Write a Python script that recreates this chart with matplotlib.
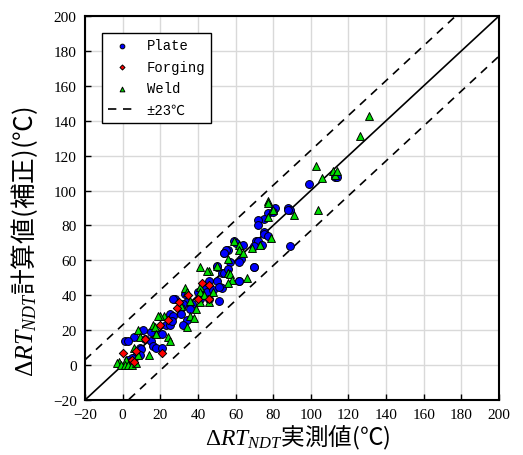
import matplotlib
matplotlib.use("Agg")
import matplotlib.pyplot as plt
import numpy as np

# ---- data ----
plate_x = [113, 114, 99, 88, 89, 89, 81, 77, 75, 72, 72, 75, 75, 77, 71, 72, 70, 74, 70,
           80, 88, 59, 64, 56, 54, 63, 60, 55, 54, 57, 62, 50, 53, 54, 56, 62, 46, 50,
           44, 40, 45, 48, 52, 53, 41, 46, 51, 28, 34, 37, 32, 31, 25, 27, 31, 34, 32,
           23, 25, 26, 11, 15, 19, 21, 6, 12, 15, 16, 18, 21, 1, 3, 9, 10, 9, 7, 5, 3, 4,
           27, 50, 51, 70, 62, 33, 36]
plate_y = [108, 108, 104, 90, 89, 68, 90, 87, 84, 83, 80, 76, 75, 74, 71, 71, 68, 69, 56,
           88, 89, 71, 69, 66, 64, 61, 70, 66, 64, 59, 59, 56, 53, 53, 55, 48, 48, 48,
           44, 42, 42, 43, 45, 44, 38, 38, 37, 38, 36, 35, 35, 33, 29, 28, 29, 26, 23,
           23, 23, 25, 20, 19, 18, 18, 16, 15, 14, 11, 10, 10, 14, 14, 10, 9, 6, 5, 4, 3, 2,
           38, 57, 45, 56, 48, 41, 32]

forging_x = [42, 46, 29, 24, 20, 12, 21, 0, 7, 5, 6, 40, 46, 30, 35]
forging_y = [47, 38, 33, 26, 23, 15, 7, 7, 8, 3, 2, 38, 46, 36, 40]

weld_x = [131, 126, 112, 113, 103, 106, 114, 104, 91, 77, 80, 77, 79, 73, 69, 59, 62, 62,
          56, 64, 56, 50, 46, 41, 56, 57, 58, 33, 34, 41, 41, 46, 41, 36, 48, 66, 77,
          45, 22, 20, 16, 17, 8, 18, 9, 24, 25, 14, 6, 8, 2, -2, -3, -1, 1, 3, 5, 7,
          36, 19, 34, 39, 31, 38, 43, 56]
weld_y = [143, 131, 111, 109, 114, 107, 111, 89, 86, 94, 89, 85, 73, 69, 67, 71, 69, 66,
          61, 64, 53, 57, 54, 56, 53, 52, 49, 44, 42, 45, 42, 36, 36, 37, 42, 50, 93,
          54, 28, 28, 23, 22, 20, 18, 16, 16, 14, 6, 10, 6, 3, 2, 1, 0, 0, 0, 0, 1,
          28, 28, 22, 32, 34, 27, 40, 47]

band = 23
ticks = list(range(-20, 201, 20))

plt.rcParams['font.family'] = ['Liberation Serif', 'Noto Sans CJK JP']
plt.rcParams['mathtext.fontset'] = 'custom'
plt.rcParams['mathtext.rm'] = 'Noto Sans CJK JP'
plt.rcParams['mathtext.it'] = 'Liberation Serif:italic'
plt.rcParams['mathtext.cal'] = 'Liberation Serif'
plt.rcParams['mathtext.sf'] = 'Liberation Serif'
plt.rcParams['mathtext.bf'] = 'Liberation Serif:bold'

fig = plt.figure(figsize=(5.23, 4.56), dpi=100)
ax = fig.add_axes([0.1625, 0.1206, 0.7915, 0.842])

ax.set_xlim(-20, 200)
ax.set_ylim(-20, 200)
ax.set_xticks(ticks)
ax.set_yticks(ticks)
ax.grid(True, color='#d9d9d9', lw=1.0, zorder=0)
ax.set_axisbelow(True)

lim = np.array([-20, 200])
ax.plot(lim, lim, color='black', lw=1.2, zorder=2)
ax.plot(lim, lim + band, color='black', lw=1.2, ls=(0, (5, 4)), zorder=2)
ax.plot(lim, lim - band, color='black', lw=1.2, ls=(0, (5, 4)), zorder=2,
        label='±23℃')

ax.scatter(plate_x, plate_y, s=32, marker='o', facecolor='#0000ff',
           edgecolor='black', linewidths=0.7, zorder=3, label='Plate')
ax.scatter(forging_x, forging_y, s=18, marker='D', facecolor='#ff0000',
           edgecolor='black', linewidths=0.7, zorder=4, label='Forging')
ax.scatter(weld_x, weld_y, s=32, marker='^', facecolor='#00dd00',
           edgecolor='black', linewidths=0.7, zorder=3, label='Weld')

h, l = ax.get_legend_handles_labels()
order = [1, 2, 3, 0]
leg = ax.legend([h[i] for i in order], [l[i] for i in order], loc='upper left',
                bbox_to_anchor=(0.025, 0.975), fancybox=False, edgecolor='black',
                framealpha=1, markerscale=0.6, handlelength=2.0, borderpad=0.4,
                labelspacing=0.55, prop={'family': ['Liberation Mono', 'Noto Sans CJK JP'], 'size': 10})
leg.get_frame().set_linewidth(1.0)

for s in ax.spines.values():
    s.set_linewidth(1.5)
ax.tick_params(direction='in', length=4, width=1, labelsize=11, pad=6)

ax.set_xlabel(r'$\mathsf{Δ}\mathit{RT}_{\mathit{NDT}}\mathrm{実測値(℃)}$', fontsize=17)
ax.set_ylabel(r'$\mathsf{Δ}\mathit{RT}_{\mathit{NDT}}\mathrm{計算値(補正)(℃)}$', fontsize=18.5)
ax.xaxis.set_label_coords(0.515, -0.06)
ax.yaxis.set_label_coords(-0.108, 0.414)

fig.savefig('out.png', dpi=100)
